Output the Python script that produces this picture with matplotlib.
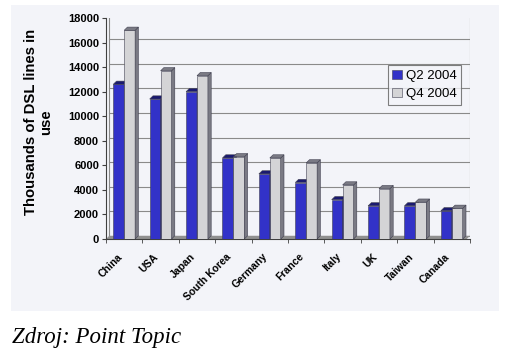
import numpy as np
import matplotlib
matplotlib.use("Agg")
import matplotlib.pyplot as plt
import matplotlib.transforms as mtransforms
from matplotlib.patches import Rectangle, Polygon

# hodnoty (tisice DSL linek)
countries = ["China", "USA", "Japan", "South Korea", "Germany",
             "France", "Italy", "UK", "Taiwan", "Canada"]
q2_2004 = [12600, 11400, 12000, 6600, 5300, 4600, 3200, 2700, 2700, 2300]
q4_2004 = [17000, 13700, 13300, 6700, 6600, 6200, 4400, 4100, 3000, 2500]
series_names = ["Q2 2004", "Q4 2004"]
yticks = np.arange(0, 18001, 2000)

W, H = 509, 353
fig = plt.figure(figsize=(W / 100, H / 100), dpi=100)
fig.patch.set_facecolor("white")

panel = "#f3f4f9"
fig.patches.append(Rectangle((11 / W, 1 - 311 / H), 488 / W, 306 / H,
                             transform=fig.transFigure, facecolor=panel,
                             edgecolor="none", zorder=-5))

ax = fig.add_axes([106 / W, 1 - 239 / H, 364 / W, 221 / H])
ax.set_facecolor(panel)

blue = "#3232c8"
blue_side = "#1a1a70"
grey = "#d4d4d6"
grey_side = "#7a7a84"

x = np.arange(len(countries))
bw = 0.3
dx, dy = 0.09, 260  # hloubka 3D efektu

def bars3d(xs, vals, face, side, label):
    ax.bar(xs, vals, bw, color=face, edgecolor="#404050", linewidth=0.4,
           label=label, zorder=3)
    for xi, v in zip(xs, vals):
        r = xi + bw / 2
        l = xi - bw / 2
        ax.add_patch(Polygon([(r, 0), (r + dx, dy), (r + dx, v + dy), (r, v)],
                             closed=True, facecolor=side, edgecolor="#404050",
                             linewidth=0.4, zorder=3))
        ax.add_patch(Polygon([(l, v), (l + dx, v + dy), (r + dx, v + dy), (r, v)],
                             closed=True, facecolor=side, edgecolor="#404050",
                             linewidth=0.4, zorder=3))

bars3d(x - bw / 2, q2_2004, blue, blue_side, series_names[0])
bars3d(x + bw / 2, q4_2004, grey, grey_side, series_names[1])

# zadni stena a mrizka
for v in yticks:
    ax.plot([-0.5 + dx, 9.5], [v + dy, v + dy], color="#8a8a8a", lw=0.8, zorder=1)
ax.plot([9.5, 9.5], [dy, 18000], color="#8a8a8a", lw=0.8, zorder=1)
ax.plot([-0.5 + dx, -0.5 + dx], [dy, 18000], color="#8a8a8a", lw=0.8, zorder=1)
ax.add_patch(Polygon([(-0.5, 0), (-0.5 + dx, dy), (9.5, dy), (9.5 - dx, 0)],
                     closed=True, facecolor="#909090", edgecolor="none", zorder=2))

ax.set_xlim(-0.5, 9.5)
ax.set_ylim(0, 18000)
ax.set_yticks(yticks)
ax.set_yticklabels([str(v) for v in yticks], fontsize=8, fontweight="bold",
                   family="Liberation Sans")
ax.set_xticks(x)
ax.set_xticklabels(countries, rotation=45, ha="right", rotation_mode="anchor",
                   fontsize=7.5, fontweight="bold", family="Liberation Sans")
ax.set_xticks(np.arange(-0.5, 10, 1), minor=True)
ax.tick_params(axis="x", which="major", length=0, pad=9)
ax.tick_params(axis="x", which="minor", length=3, color="#404040")
ax.tick_params(axis="y", length=3, color="#404040", pad=2)

# popisky zemi trochu doleva jako v originalu
shift = mtransforms.ScaledTranslation(-7 / 100, 0, fig.dpi_scale_trans)
for lbl in ax.xaxis.get_majorticklabels():
    lbl.set_transform(lbl.get_transform() + shift)

for s in ["top", "right"]:
    ax.spines[s].set_visible(False)
ax.spines["left"].set_color("#404040")
ax.spines["bottom"].set_color("#404040")
ax.spines["left"].set_linewidth(0.8)
ax.spines["bottom"].set_linewidth(0.8)

ax.set_ylabel("Thousands of DSL lines in\nuse", fontsize=10.7, fontweight="bold",
              family="Liberation Sans", linespacing=1.05)
ax.yaxis.set_label_coords(-0.146, 0.53)

leg = ax.legend(loc="upper right", bbox_to_anchor=(0.975, 0.787),
                borderaxespad=0,
                prop={"family": "Liberation Sans", "size": 9.5},
                frameon=True, fancybox=False, handlelength=0.7,
                handleheight=0.7, handletextpad=0.3, borderpad=0.35,
                labelspacing=0.45)
leg.get_frame().set_edgecolor("#606060")
leg.get_frame().set_facecolor(panel)
leg.get_frame().set_linewidth(0.8)

fig.text(12 / W, 1 - 343 / H, "Zdroj: Point Topic", fontsize=16.5,
         style="italic", family="Liberation Serif", va="baseline")

fig.savefig("out.png", dpi=100)
